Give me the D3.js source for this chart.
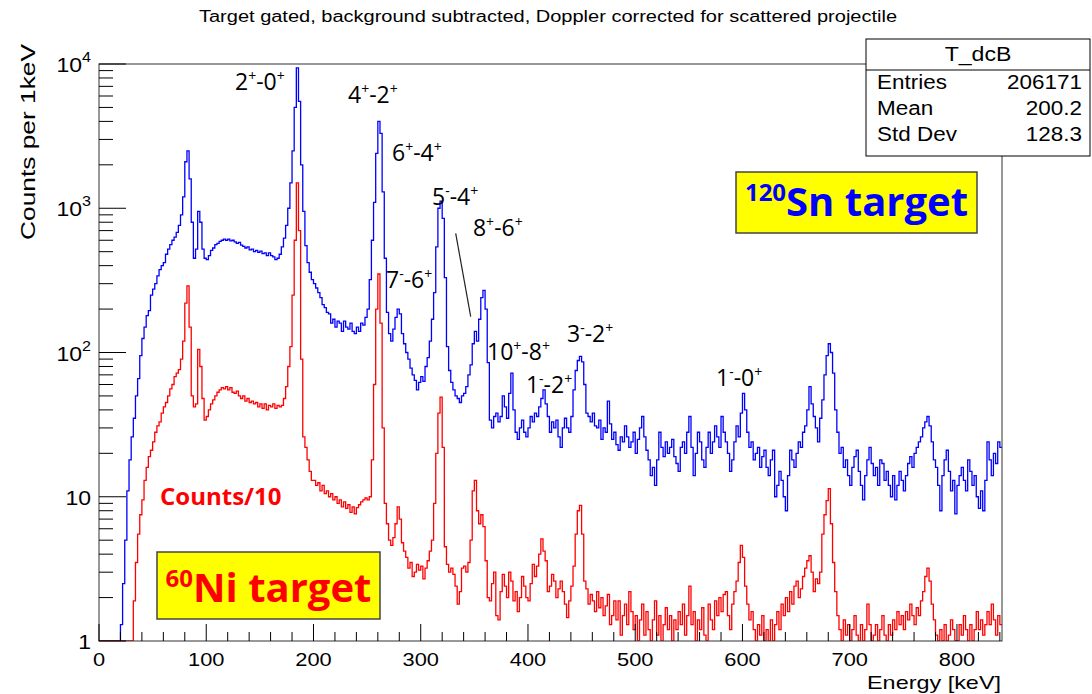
<!DOCTYPE html>
<html>
<head>
<meta charset="utf-8">
<script src="https://cdn.jsdelivr.net/npm/d3@7"></script>
<style>
  body { margin: 0; background: #fff; }
  svg { display: block; }
  text { font-family: "Liberation Sans", Arial, sans-serif; fill: #000; }
  .ann { font-family: "Open Sans", sans-serif; }
</style>
</head>
<body>
<svg id="chart" width="1092" height="694"></svg>
<script>
// histogram binning (keV)
const energyMin = 0;
const binWidth = 2;

// 120Sn target spectrum, counts per keV, one value per 2 keV bin
const snCounts = [
  0, 0, 0, 0, 0, 0, 0, 0, 0, 0,
  1.3, 2.5, 5, 11, 18, 26, 35, 50, 66, 95,
  125, 150, 180, 195, 250, 275, 300, 340, 375, 400,
  420, 480, 520, 560, 600, 630, 680, 760, 900, 1200,
  2100, 2500, 1600, 800, 450, 520, 950, 800, 520, 450,
  440, 470, 510, 530, 560, 570, 590, 600, 610, 600,
  610, 595, 600, 585, 570, 580, 555, 545, 530, 540,
  515, 520, 500, 510, 495, 505, 485, 490, 470, 490,
  470, 460, 440, 450, 480, 540, 620, 760, 1000, 1500,
  2500, 5000, 9400, 5500, 2000, 950, 550, 420, 360, 320,
  300, 280, 260, 240, 215, 205, 190, 185, 160, 170,
  150, 165, 160, 140, 165, 150, 145, 160, 140, 135,
  150, 140, 160, 155, 175, 200, 320, 600, 1100, 2400,
  4000, 3300, 1300, 450, 190, 135, 120, 145, 175, 200,
  185, 135, 115, 100, 90, 78, 70, 64, 55, 62,
  68, 63, 80, 92, 120, 170, 260, 540, 1000, 1120,
  850, 330, 110, 75, 62, 55, 50, 48, 45, 50,
  52, 58, 70, 82, 115, 140, 120, 170, 240, 270,
  200, 85, 34, 30, 36, 38, 33, 36, 50, 42,
  35, 52, 72, 40, 28, 25, 30, 34, 28, 26,
  30, 36, 33, 38, 36, 42, 48, 55, 44, 36,
  28, 33, 30, 34, 26, 22, 30, 35, 30, 28,
  36, 55, 75, 88, 94, 86, 60, 38, 36, 33,
  38, 31, 30, 34, 25, 30, 28, 46, 32, 25,
  28, 23, 21, 26, 24, 31, 26, 22, 24, 28,
  20, 25, 30, 36, 26, 21, 18, 14, 16, 12,
  18, 28, 22, 19, 24, 20, 22, 25, 19, 17,
  15, 22, 24, 20, 28, 36, 22, 14, 20, 28,
  24, 18, 16, 22, 28, 20, 24, 31, 26, 22,
  36, 28, 24, 20, 15, 18, 24, 31, 26, 38,
  52, 40, 28, 22, 24, 18, 20, 22, 16, 19,
  21, 16, 14, 18, 21, 10, 12, 15, 13, 10,
  8, 14, 21, 18, 16, 20, 24, 22, 28, 31,
  40, 58, 44, 36, 30, 24, 35, 47, 70, 95,
  115, 100, 72, 40, 28, 20, 22, 16, 18, 14,
  12, 16, 19, 21, 15, 12, 9.5, 14, 18, 22,
  17, 14, 16, 12, 18, 17, 13, 15, 12, 10,
  14, 9.5, 12, 15, 13, 11, 14, 17, 19, 16,
  20, 22, 24, 26, 30, 33, 36, 31, 24, 18,
  16, 12, 8, 14, 18, 21, 15, 11, 13, 7.6,
  12, 14, 16, 13, 11, 18, 15, 12, 14, 10,
  8.3, 11, 8, 13, 24, 18, 14, 20, 17, 24,
  22
];

// 60Ni target spectrum (counts/10), same binning
const niCounts = [
  0, 0, 0, 0, 0, 0, 0, 0, 0, 0,
  0, 0, 0, 0, 0, 0, 1.9, 3.5, 5.5, 7.5,
  9.5, 13, 16, 19, 21, 24, 28, 31, 33, 38,
  42, 45, 50, 56, 60, 68, 72, 76, 90, 120,
  220, 290, 150, 50, 42, 44, 105, 80, 48, 34,
  36, 40, 44, 47, 50, 53, 55, 57, 56, 58,
  55, 57, 53, 52, 54, 50, 48, 50, 46, 48,
  45, 46, 44, 45, 42, 44, 41, 44, 40, 43,
  42, 44, 41, 43, 42, 43, 48, 58, 80, 110,
  250, 600, 1500, 700, 90, 26, 22, 18, 15, 13,
  13, 12, 12.5, 11, 12, 10.5, 11, 10, 10.5, 9.5,
  10, 9, 9.5, 8.5, 9.2, 8.3, 8.8, 7.8, 8.5, 7.6,
  8.4, 8.8, 9.2, 9.5, 9.8, 9.5, 10, 18, 60, 200,
  350, 160, 30, 9, 6.5, 5, 4.6, 5.2, 6.5, 8.5,
  7, 4.8, 4.2, 3.8, 3.2, 3.5, 2.8, 3.0, 3.4, 3.1,
  3.3, 2.7, 3.2, 3.6, 4.2, 5, 9, 20, 38, 49,
  22, 4.5, 3.4, 3.0, 3.2, 2.9, 2.4, 1.8, 2.2, 3.2,
  3.3, 3.0, 3.5, 5, 11, 13, 8, 6.5, 7.5, 6.2,
  3.6, 2.0, 1.9, 2.5, 3.0, 1.5, 1.4, 2.2, 2.9, 2.4,
  2.0, 3.0, 2.6, 1.9, 2.2, 1.6, 2.0, 2.8, 2.4, 2.0,
  1.9, 2.5, 3.4, 2.8, 3.3, 4.0, 5.1, 4.2, 3.6, 2.2,
  2.4, 2.9, 2.6, 2.0, 2.3, 2.6, 2.2, 1.8, 1.45, 1.9,
  2.4, 3.3, 5.5, 8.0, 8.7, 5.5, 2.6, 2.3, 1.8, 2.1,
  1.9, 1.6, 2.2, 1.7, 2.0, 1.5, 1.75, 2.1, 1.3, 1.5,
  1.9, 1.4, 1.9, 1.1, 1.5, 1.8, 1.3, 2.2, 1.6, 1.2,
  1.5, 0, 1.4, 1.8, 1.1, 1.6, 1.2, 0, 1.4, 1.9,
  1.1, 1.5, 0, 1.3, 1.7, 1.2, 1.5, 0, 1.4, 1.2,
  1.6, 1.3, 1.8, 1.1, 1.5, 2.4, 1.3, 1.6, 0, 1.4,
  1.2, 1.7, 1.1, 0, 1.8, 1.4, 1.2, 1.9, 1.5, 2.0,
  1.6, 2.1, 2.2, 1.5, 1.2, 1.8, 2.2, 2.6, 3.5, 4.6,
  3.8, 2.4, 1.8, 1.4, 1.6, 1.2, 0, 1.3, 1.1, 1.5,
  0, 1.2, 1.0, 1.4, 0, 1.3, 1.6, 1.2, 1.8, 1.5,
  2.0, 1.6, 2.2, 1.8, 2.4, 2.6, 2.0, 2.3, 2.8, 3.2,
  3.6, 3.9, 3.0, 2.2, 2.7, 2.5, 3.0, 5.5, 7.5, 9.4,
  11.4, 6.5, 3.5, 2.2, 1.5, 1.2, 0, 1.4, 1.1, 1.3,
  0, 1.2, 1.5, 1.1, 0, 1.3, 1.0, 1.2, 1.8, 1.3,
  0, 1.1, 1.3, 0, 1.2, 1.5, 1.1, 1.0, 1.3, 1.1,
  1.4, 1.2, 1.6, 1.3, 1.5, 1.2, 1.6, 1.4, 1.8, 1.5,
  1.3, 1.7, 1.5, 1.9, 2.2, 2.8, 3.2, 2.6, 1.8, 1.4,
  1.1, 0, 1.2, 1.0, 1.3, 0, 1.1, 1.4, 1.2, 1.0,
  0, 1.3, 1.1, 1.5, 1.2, 1.0, 1.3, 0, 1.2, 1.6,
  1.2, 1.4, 1.1, 1.3, 1.6, 1.3, 1.8, 1.4, 1.1, 1.5,
  1.3
];

// axis ticks
const xMajorTicks = [0, 100, 200, 300, 400, 500, 600, 700, 800];
const yDecades = [1, 10, 100, 1000, 10000];
const yDecadeLabels = [["1", ""], ["10", ""], ["10", "2"], ["10", "3"], ["10", "4"]];

// transition labels: text pieces and anchor (energy, counts) of the label baseline start
const transitions = [
  { a: "2", s1: "+", b: "-0", s2: "+", e: 126.8, c: 6600 },
  { a: "4", s1: "+", b: "-2", s2: "+", e: 232.2, c: 5370 },
  { a: "6", s1: "+", b: "-4", s2: "+", e: 273.2, c: 2130 },
  { a: "5", s1: "-", b: "-4", s2: "+", e: 310.5, c: 1055 },
  { a: "8", s1: "+", b: "-6", s2: "+", e: 348.7, c: 643 },
  { a: "7", s1: "-", b: "-6", s2: "+", e: 267.6, c: 280 },
  { a: "10", s1: "+", b: "-8", s2: "+", e: 361.8, c: 89 },
  { a: "1", s1: "-", b: "-2", s2: "+", e: 398.1, c: 52 },
  { a: "3", s1: "-", b: "-2", s2: "+", e: 436.4, c: 118 },
  { a: "1", s1: "-", b: "-0", s2: "+", e: 575.3, c: 59 }
];
// pointer line for 8+-6+ (energy, counts)
const pointer = [[332.6, 670], [346.6, 177]];

const statNames = ["Entries", "Mean", "Std Dev"];
const statValues = ["206171", "200.2", "128.3"];

const svg = d3.select("#chart");
const plotLeft = 99, plotRight = 1002, plotTop = 64, plotBottom = 641;

const x = d3.scaleLinear().domain([0, 842]).range([plotLeft, plotRight]);
const y = d3.scaleLog().domain([1, 10000]).range([plotBottom, plotTop]);

// title
svg.append("text")
  .attr("x", 548).attr("y", 22)
  .attr("text-anchor", "middle")
  .attr("textLength", 698).attr("lengthAdjust", "spacingAndGlyphs")
  .style("font-size", "16px")
  .text("Target gated, background subtracted, Doppler corrected for scattered projectile");

svg.append("clipPath").attr("id", "plotclip")
  .append("rect")
  .attr("x", plotLeft).attr("y", plotTop)
  .attr("width", plotRight - plotLeft).attr("height", plotBottom - plotTop);

function histPath(counts) {
  const pts = counts.map((v, i) => [energyMin + i * binWidth, v]);
  pts.push([energyMin + counts.length * binWidth, counts[counts.length - 1]]);
  return d3.line()
    .x(d => x(d[0]))
    .y(d => (d[1] >= 1 ? y(d[1]) : y(1)))
    .curve(d3.curveStepAfter)(pts);
}

const plot = svg.append("g").attr("clip-path", "url(#plotclip)");
plot.append("path")
  .attr("d", histPath(snCounts))
  .attr("fill", "none").attr("stroke", "#0000ff").attr("stroke-width", 1.3);
plot.append("path")
  .attr("d", histPath(niCounts))
  .attr("fill", "none").attr("stroke", "#ff0000").attr("stroke-width", 1.3);

// frame
svg.append("rect")
  .attr("x", plotLeft).attr("y", plotTop)
  .attr("width", plotRight - plotLeft).attr("height", plotBottom - plotTop)
  .attr("fill", "none").attr("stroke", "#333").attr("stroke-width", 1);

// x ticks (ROOT style, inside)
const xTicks = d3.range(0, 841, 20);
svg.append("g").selectAll("line")
  .data(xTicks)
  .enter()
  .append("line")
  .attr("x1", d => x(d)).attr("x2", d => x(d))
  .attr("y1", plotBottom)
  .attr("y2", d => (d % 100 === 0 ? plotBottom - 17 : plotBottom - 9))
  .attr("stroke", "#000");

svg.append("g").selectAll("text")
  .data(xMajorTicks)
  .enter()
  .append("text")
  .attr("transform", d => "translate(" + x(d) + "," + 666 + ") scale(1.15,1)")
  .attr("text-anchor", "middle")
  .style("font-size", "19px")
  .text(d => d);

// y ticks
const yMinor = [];
yDecades.slice(0, -1).forEach(function(d) {
  for (let k = 2; k <= 9; k++) yMinor.push(d * k);
});
svg.append("g").selectAll("line")
  .data(yDecades.concat(yMinor))
  .enter()
  .append("line")
  .attr("x1", plotLeft)
  .attr("x2", d => (yDecades.indexOf(d) >= 0 ? plotLeft + 27 : plotLeft + 14))
  .attr("y1", d => y(d)).attr("y2", d => y(d))
  .attr("stroke", "#000");

yDecades.forEach(function(d, i) {
  const lab = yDecadeLabels[i];
  const t = svg.append("text")
    .attr("transform", "translate(91," + (y(d) + 8) + ") scale(1.15,1)")
    .attr("text-anchor", "end")
    .style("font-size", "20px");
  t.append("tspan").text(lab[0]);
  if (lab[1]) {
    t.append("tspan").attr("dy", -10).style("font-size", "14px").text(lab[1]);
  }
});

// axis titles
svg.append("text")
  .attr("x", 1001).attr("y", 689)
  .attr("text-anchor", "end")
  .attr("textLength", 134).attr("lengthAdjust", "spacingAndGlyphs")
  .style("font-size", "19px")
  .text("Energy [keV]");

svg.append("text")
  .attr("transform", "translate(35,44) rotate(-90)")
  .attr("text-anchor", "end")
  .attr("textLength", 196).attr("lengthAdjust", "spacingAndGlyphs")
  .style("font-size", "20px")
  .text("Counts per 1keV");

// transition annotations
transitions.forEach(function(d) {
  const t = svg.append("text")
    .attr("class", "ann")
    .attr("x", x(d.e)).attr("y", y(d.c))
    .style("font-size", "23px");
  t.append("tspan").text(d.a);
  t.append("tspan").attr("dy", -9).style("font-size", "14px").text(d.s1);
  t.append("tspan").attr("dy", 9).text(d.b);
  t.append("tspan").attr("dy", -9).style("font-size", "14px").text(d.s2);
});

svg.append("line")
  .attr("x1", x(pointer[0][0])).attr("y1", y(pointer[0][1]))
  .attr("x2", x(pointer[1][0])).attr("y2", y(pointer[1][1]))
  .attr("stroke", "#222").attr("stroke-width", 1.2);

// Counts/10 note
svg.append("text")
  .attr("class", "ann")
  .attr("x", x(56.9)).attr("y", y(8.77))
  .style("font-size", "24px").style("font-weight", "bold")
  .style("fill", "#ff0000")
  .text("Counts/10");

// target boxes
function targetBox(bx, by, bw, bh, mass, name, color) {
  svg.append("rect")
    .attr("x", bx).attr("y", by).attr("width", bw).attr("height", bh)
    .attr("fill", "#ffff00").attr("stroke", "#444").attr("stroke-width", 1.5);
  const t = svg.append("text")
    .attr("class", "ann")
    .attr("x", bx + bw / 2).attr("y", by + bh - 17)
    .attr("text-anchor", "middle")
    .style("font-weight", "bold")
    .style("fill", color);
  t.append("tspan").attr("dy", -15).style("font-size", "24px").text(mass);
  t.append("tspan").attr("dy", 15).style("font-size", "40px").text(name);
}
targetBox(157, 552, 223, 67, "60", "Ni target", "#ff0000");
targetBox(736, 172, 241, 61, "120", "Sn target", "#0000ff");

// stats box
svg.append("rect")
  .attr("x", 866).attr("y", 39).attr("width", 224).attr("height", 117)
  .attr("fill", "#fff").attr("stroke", "#000").attr("stroke-width", 1);
svg.append("line")
  .attr("x1", 866).attr("x2", 1090).attr("y1", 70).attr("y2", 70)
  .attr("stroke", "#000");
svg.append("text")
  .attr("transform", "translate(978,61) scale(1.1,1)")
  .attr("text-anchor", "middle")
  .style("font-size", "21px")
  .text("T_dcB");
statNames.forEach(function(name, i) {
  svg.append("text")
    .attr("transform", "translate(877," + (89 + i * 26) + ") scale(1.07,1)")
    .style("font-size", "21px")
    .text(name);
  svg.append("text")
    .attr("transform", "translate(1082," + (89 + i * 26) + ") scale(1.07,1)")
    .attr("text-anchor", "end")
    .style("font-size", "21px")
    .text(statValues[i]);
});
</script>
</body>
</html>
